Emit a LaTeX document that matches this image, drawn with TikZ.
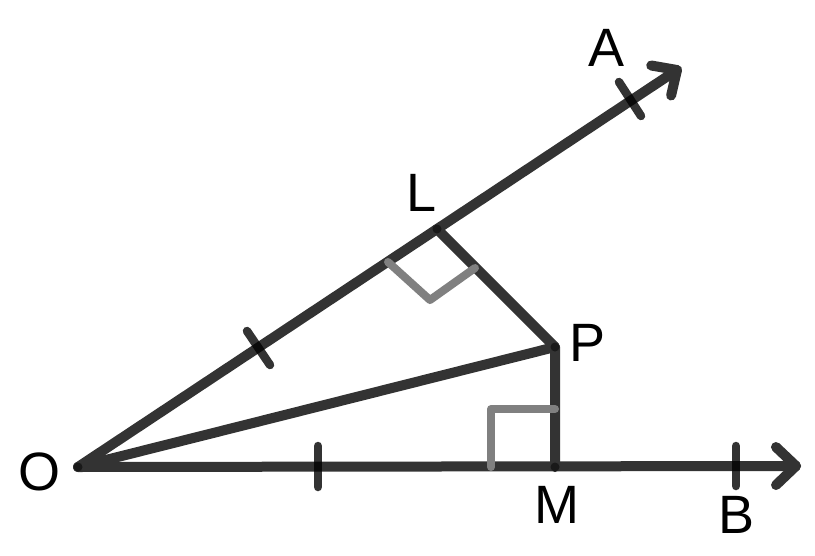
\documentclass[tikz,border=0pt]{standalone}
\usepackage{fontspec}
\setmainfont{Liberation Sans}
\usetikzlibrary{calc}
\definecolor{dk}{HTML}{333333}
\definecolor{gr}{HTML}{808080}
\begin{document}
\begin{tikzpicture}[x=1pt,y=-1pt,
  seg/.style={draw=dk,line width=10pt,line cap=round,line join=round},
  marker/.style={draw=gr,line width=8pt,line cap=round,line join=round},
  tick/.style={draw=black,draw opacity=0.8,line width=8.5pt,line cap=round},
  lbl/.style={inner sep=0pt,font=\fontsize{54}{54}\selectfont},
  vdot/.style={fill=black!90,draw=none}]
\useasboundingbox (0,0) rectangle (815,555);
\fill[white] (0,0) rectangle (815,555);
% points
\coordinate (O) at (78,467);
\coordinate (L) at (437,229);
\coordinate (P) at (555,347);
\coordinate (M) at (555,467);
\coordinate (Atip) at (677,70);
\coordinate (Btip) at (796,466);
% arrow heads
\coordinate (Ab) at ($(Atip)!19pt!(O)$);
\coordinate (Bb) at ($(Btip)!20pt!(O)$);
% main lines
\draw[seg] (O) -- (Atip);
\draw[seg] (O) -- (Btip);
\draw[seg] (O) -- (P);
\draw[seg] (L) -- (P) -- (M);
\draw[seg] ($(Ab)!18pt!90:(Atip)$) -- (Atip) -- ($(Ab)!18pt!-90:(Atip)$);
\draw[seg] ($(Bb)!19pt!90:(Btip)$) -- (Btip) -- ($(Bb)!19pt!-90:(Btip)$);
% right-angle markers
\coordinate (RL1) at (388,262);
\coordinate (RL2) at (430,300);
\coordinate (RL3) at (475,268);
\draw[marker] (RL1) -- (RL2) -- (RL3);
\coordinate (RM1) at (491,467);
\coordinate (RM2) at (491,409);
\coordinate (RM3) at (555,409);
\draw[marker] (RM1) -- (RM2) -- (RM3);
% tick marks
\coordinate (T1a) at (247,331); \coordinate (T1b) at (270,365);
\draw[tick] (T1a) -- (T1b);
\coordinate (T2a) at (619,82); \coordinate (T2b) at (641,116);
\draw[tick] (T2a) -- (T2b);
\coordinate (T3a) at (318,446); \coordinate (T3b) at (318,487);
\draw[tick] (T3a) -- (T3b);
\coordinate (T4a) at (736,446); \coordinate (T4b) at (736,486);
\draw[tick] (T4a) -- (T4b);
% vertex dots
\foreach \p in {O,L,P,M} \fill[vdot] (\p) circle (4.5pt);
% labels
\node[lbl] (lA) at (607,48) {A};
\node[lbl] (lL) at (422,193) {L};
\node[lbl] (lP) at (588,343) {P};
\node[lbl] (lO) at (40,472) {O};
\node[lbl] (lM) at (557,505) {M};
\node[lbl] (lB) at (737,515) {B};
\end{tikzpicture}
\end{document}
